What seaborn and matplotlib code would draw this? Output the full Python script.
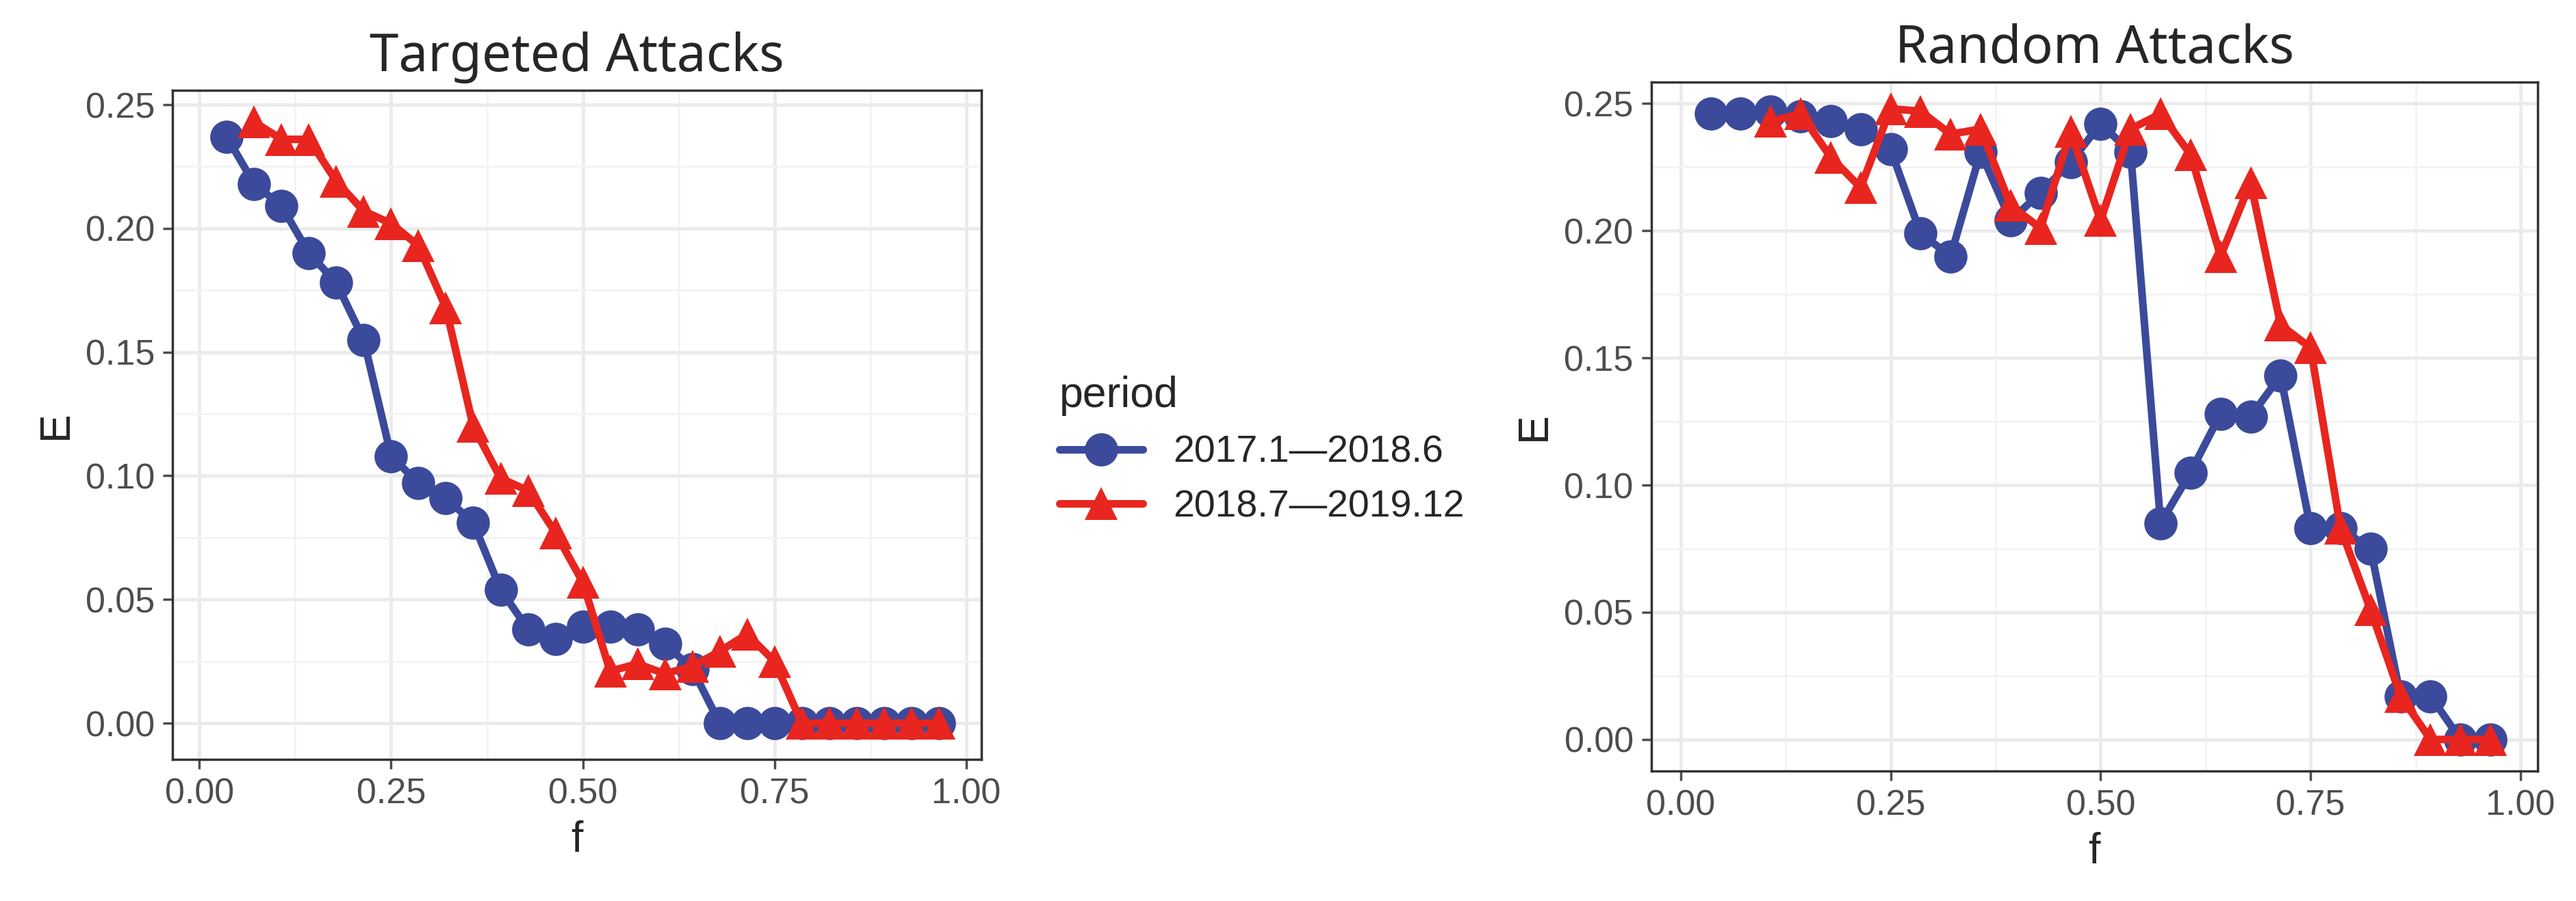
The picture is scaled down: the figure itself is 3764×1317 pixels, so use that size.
import numpy as np
import pandas as pd
import seaborn as sns
from matplotlib import pyplot as plt
from matplotlib.lines import Line2D

f = [k / 28 for k in range(1, 28)]

# Targeted attacks
tgt_p1 = [0.237, 0.218, 0.209, 0.190, 0.178, 0.155, 0.108, 0.097, 0.091, 0.081,
          0.054, 0.038, 0.034, 0.039, 0.039, 0.038, 0.032, 0.022, 0.0, 0.0,
          0.0, 0.0, 0.0, 0.0, 0.0, 0.0, 0.0]
tgt_p2 = [None, 0.243, 0.236, 0.236, 0.219, 0.207, 0.202, 0.193, 0.168, 0.120,
          0.099, 0.094, 0.077, 0.057, 0.021, 0.024, 0.020, 0.023, 0.029, 0.036,
          0.025, 0.0, 0.0, 0.0, 0.0, 0.0, 0.0]
# Random attacks
rnd_p1 = [0.246, 0.246, 0.247, 0.245, 0.243, 0.240, 0.232, 0.199, 0.190, 0.231,
          0.204, 0.215, 0.227, 0.242, 0.231, 0.085, 0.105, 0.128, 0.127, 0.143,
          0.083, 0.083, 0.075, 0.017, 0.017, 0.0, 0.0]
rnd_p2 = [None, None, 0.243, 0.246, 0.229, 0.217, 0.248, 0.247, 0.238, 0.240,
          0.210, 0.201, 0.239, 0.204, 0.240, 0.246, 0.230, 0.190, 0.219, 0.163,
          0.154, 0.083, 0.051, 0.017, 0.0, 0.0, 0.0]

periods = ["2017.1\u20142018.6", "2018.7\u20142019.12"]
colors = {periods[0]: "#3B4A9A", periods[1]: "#E8251F"}
markers = {periods[0]: "o", periods[1]: "^"}


def make_df(p1, p2):
    dfs = []
    for per, vals in zip(periods, [p1, p2]):
        d = pd.DataFrame({"f": f, "E": vals, "period": per}).dropna()
        dfs.append(d)
    return pd.concat(dfs)


sns.set_theme(style="whitegrid")
plt.rcParams["font.family"] = ["Liberation Sans", "DejaVu Sans"]

fig = plt.figure(figsize=(15.056, 5.268), dpi=250)
ax1 = fig.add_axes([0.067, 0.157, 0.314, 0.743])
ax2 = fig.add_axes([0.641, 0.144, 0.344, 0.765])

panels = [
    (ax1, make_df(tgt_p1, tgt_p2), "Targeted Attacks", (-0.0147, 0.2559)),
    (ax2, make_df(rnd_p1, rnd_p2), "Random Attacks", (-0.0125, 0.2585)),
]
for ax, df, title, ylim in panels:
    for per in periods:
        d = df[df.period == per]
        sns.lineplot(data=d, x="f", y="E", ax=ax, color=colors[per],
                     marker=markers[per], markersize=14, linewidth=3.2,
                     markeredgewidth=0, legend=False)
    ax.set_xlim(-0.035, 1.02)
    ax.set_ylim(*ylim)
    ax.set_xticks([0, 0.25, 0.5, 0.75, 1.0])
    ax.set_yticks([0, 0.05, 0.10, 0.15, 0.20, 0.25])
    ax.set_xticks(np.arange(0.125, 1.0, 0.25), minor=True)
    ax.set_yticks(np.arange(0.025, 0.25, 0.05), minor=True)
    ax.xaxis.set_major_formatter(plt.FormatStrFormatter("%.2f"))
    ax.yaxis.set_major_formatter(plt.FormatStrFormatter("%.2f"))
    ax.grid(which="major", color="#EBEBEB", linewidth=1.4)
    ax.grid(which="minor", color="#F3F3F3", linewidth=0.8)
    ax.tick_params(axis="both", labelsize=15, colors="#4D4D4D", length=4,
                   width=1, bottom=True, left=True)
    for s in ax.spines.values():
        s.set_color("#333333")
        s.set_linewidth(1)
    ax.set_title(title, fontsize=22, family=["Noto Sans", "DejaVu Sans"], pad=8)
    ax.set_xlabel("f", fontsize=18)
    ax.set_ylabel("E", fontsize=18)

handles = [Line2D([0], [0], color=colors[p], marker=markers[p], markersize=14,
                  linewidth=3.2, markeredgewidth=0) for p in periods]
fig.legend(handles, periods, title="period", loc="center left",
           bbox_to_anchor=(0.398, 0.5), frameon=False, fontsize=16,
           title_fontsize=18, alignment="left", handlelength=2.2)

fig.savefig("out.png")
